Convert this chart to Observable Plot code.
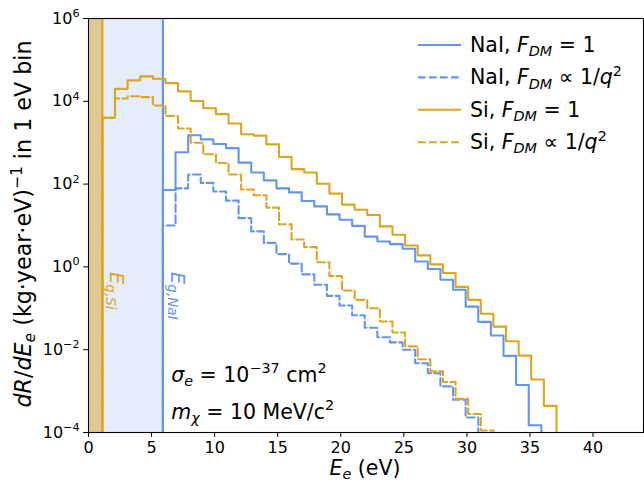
<!DOCTYPE html>
<html><head><meta charset="utf-8">
<script src="https://cdn.jsdelivr.net/npm/d3@7"></script>
<script src="https://cdn.jsdelivr.net/npm/@observablehq/plot@0.6"></script>
<style>
body{margin:0;background:#fff;}
svg{display:block;}
</style></head><body>
<script>
// Band gaps (eV) and bin width
const gapSi = 1.1;
const gapNaI = 5.9;
const binWidth = 1;

// Rates per 1 eV bin, first bin starts at the gap
const siFlat = [4.0e3, 2.0e4, 3.2e4, 4.0e4, 3.5e4, 2.75e4, 1.74e4, 1.02e4, 6.8e3, 4.9e3, 2.9e3, 1.6e3, 1.48e3, 910, 450, 230, 190, 102, 59, 32, 24, 18, 9.5, 6.0, 3.3, 1.9, 1.15, 0.71, 0.33, 0.16, 0.074, 0.036, 0.016, 0.0072, 0.0019, 4.4e-4];
const siQ2 = [4.0e3, 1.17e4, 1.32e4, 1.26e4, 7.9e3, 4.4e3, 2.2e3, 1.0e3, 525, 324, 170, 74, 54, 27, 10.7, 4.6, 3.0, 1.29, 0.60, 0.27, 0.16, 0.10, 0.048, 0.026, 0.012, 0.0059, 0.0030, 0.00166, 6.5e-4, 2.8e-4, 1.12e-4];
const naiFlat = [72, 590, 1510, 1200, 930, 740, 330, 191, 123, 79, 63, 39, 29, 18.6, 13.8, 9.8, 5.4, 4.1, 3.55, 2.75, 1.35, 0.89, 0.49, 0.28, 0.11, 0.047, 0.022, 0.0071, 0.0014, 1.5e-4];
const naiQ2 = [10, 79, 170, 107, 66, 40, 15.1, 7.2, 3.8, 2.04, 1.2, 0.66, 0.37, 0.20, 0.117, 0.068, 0.034, 0.020, 0.015, 0.010, 0.0047, 0.0027, 0.0013, 6.2e-4, 2.3e-4];

const xTicks = [0, 5, 10, 15, 20, 25, 30, 35, 40];
const yTicks = [1e-4, 1e-2, 1, 1e2, 1e4, 1e6];
const yTickExp = ["−4", "−2", "0", "2", "4", "6"];

const NAI = "#6495ed", SI = "#daa520";
const DASH = "7.7,3.3";
const BIG = 20.5;
const TICK = 16;

function steps(gap, values) {
  const floor = 1e-9;
  const pts = [{E: gap, rate: floor}];
  values.forEach((v, i) => pts.push({E: gap + i * binWidth, rate: v}));
  const end = gap + values.length * binWidth;
  pts.push({E: end, rate: values[values.length - 1]});
  pts.push({E: end, rate: floor});
  return pts;
}

const chart = Plot.plot({
  width: 644, height: 483,
  marginLeft: 88, marginRight: 1, marginTop: 18, marginBottom: 51,
  style: {fontFamily: "DejaVu Sans", fontSize: TICK + "px", color: "black", background: "white"},
  x: {domain: [0, 44], ticks: xTicks, tickSize: 4.9, tickPadding: 4, label: null},
  y: {type: "log", domain: [1e-4, 1e6], ticks: yTicks, tickSize: 4.9, tickPadding: 4,
      tickFormat: d => "10^" + yTickExp[yTicks.indexOf(d)], label: null},
  marks: [
    Plot.rect([{a: 0, b: gapNaI}], {x1: "a", x2: "b", fill: NAI, fillOpacity: 0.17}),
    Plot.rect([{a: 0, b: gapSi}], {x1: "a", x2: "b", fill: SI, fillOpacity: 0.5}),
    Plot.ruleX([gapSi], {stroke: SI, strokeWidth: 2.1}),
    Plot.ruleX([gapNaI], {stroke: NAI, strokeWidth: 2.1}),
    Plot.line(steps(gapNaI, naiFlat), {x: "E", y: "rate", curve: "step-after", stroke: NAI, strokeWidth: 2.1, clip: true}),
    Plot.line(steps(gapNaI, naiQ2), {x: "E", y: "rate", curve: "step-after", stroke: NAI, strokeWidth: 2.1, strokeDasharray: DASH, clip: true}),
    Plot.line(steps(gapSi, siFlat), {x: "E", y: "rate", curve: "step-after", stroke: SI, strokeWidth: 2.1, clip: true}),
    Plot.line(steps(gapSi, siQ2), {x: "E", y: "rate", curve: "step-after", stroke: SI, strokeWidth: 2.1, strokeDasharray: DASH, clip: true}),
    Plot.frame({stroke: "black", strokeWidth: 1.1})
  ]
});
document.body.appendChild(chart);

const svg = d3.select(chart);
const xs = chart.scale("x").apply;

function rich(sel, parts, size) {
  let shift = 0;
  for (const p of parts) {
    const target = p.sub ? 0.2 * size : p.sup ? -0.42 * size : 0;
    const ts = sel.append("tspan").text(p.t);
    if (target !== shift) ts.attr("dy", target - shift);
    shift = target;
    if (p.sub || p.sup) ts.attr("font-size", size * 0.7);
    if (p.it) ts.attr("font-style", "italic");
  }
}

// y tick labels with superscripts
svg.selectAll("text").each(function() {
  const s = this.textContent;
  if (s.startsWith("10^")) {
    const e = s.slice(3);
    this.textContent = "";
    rich(d3.select(this), [{t: "10"}, {t: e, sup: true}], TICK);
  }
});

const g = svg.append("g").attr("font-family", "DejaVu Sans").attr("fill", "black").attr("text-anchor", "start");

// axis labels
rich(g.append("text").attr("x", 365).attr("y", 475).attr("text-anchor", "middle").attr("font-size", BIG),
  [{t: "E", it: true}, {t: "e", it: true, sub: true}, {t: " (eV)"}], BIG);
rich(g.append("text").attr("transform", "translate(31,224) rotate(-90)").attr("text-anchor", "middle").attr("font-size", 22.2),
  [{t: "dR", it: true}, {t: "/"}, {t: "dE", it: true}, {t: "e", it: true, sub: true}, {t: " (kg·year·eV)"}, {t: "−1", sup: true}, {t: " in 1 eV bin"}], 22.2);

// gap labels
rich(g.append("text").attr("transform", `translate(${xs(gapSi) + 8},272) rotate(90)`).attr("font-size", 19.4).attr("fill", SI),
  [{t: "E", it: true}, {t: "g,Si", it: true, sub: true}], 19.4);
rich(g.append("text").attr("transform", `translate(${xs(gapNaI) + 9},272) rotate(90)`).attr("font-size", 19.4).attr("fill", NAI),
  [{t: "E", it: true}, {t: "g,NaI", it: true, sub: true}], 19.4);

// annotations
const annX = xs(6.6);
rich(g.append("text").attr("x", annX).attr("y", 382).attr("font-size", BIG),
  [{t: "σ", it: true}, {t: "e", it: true, sub: true}, {t: " = 10"}, {t: "−37", sup: true}, {t: " cm"}, {t: "2", sup: true}], BIG);
rich(g.append("text").attr("x", annX).attr("y", 419).attr("font-size", BIG),
  [{t: "m", it: true}, {t: "χ", it: true, sub: true}, {t: " = 10 MeV/c"}, {t: "2", sup: true}], BIG);

// legend
const legend = [
  {c: NAI, dash: null, parts: [{t: "NaI, "}, {t: "F", it: true}, {t: "DM", it: true, sub: true}, {t: " = 1"}]},
  {c: NAI, dash: DASH, parts: [{t: "NaI, "}, {t: "F", it: true}, {t: "DM", it: true, sub: true}, {t: " ∝ 1/"}, {t: "q", it: true}, {t: "2", sup: true}]},
  {c: SI, dash: null, parts: [{t: "Si, "}, {t: "F", it: true}, {t: "DM", it: true, sub: true}, {t: " = 1"}]},
  {c: SI, dash: DASH, parts: [{t: "Si, "}, {t: "F", it: true}, {t: "DM", it: true, sub: true}, {t: " ∝ 1/"}, {t: "q", it: true}, {t: "2", sup: true}]}
];
legend.forEach((d, i) => {
  const y = 45 + i * 32.4;
  const ln = g.append("line").attr("x1", 418).attr("x2", 461).attr("y1", y).attr("y2", y)
    .attr("stroke", d.c).attr("stroke-width", 2.1);
  if (d.dash) ln.attr("stroke-dasharray", d.dash);
  rich(g.append("text").attr("x", 470).attr("y", y + 7).attr("font-size", BIG), d.parts, BIG);
});
</script>
</body></html>
